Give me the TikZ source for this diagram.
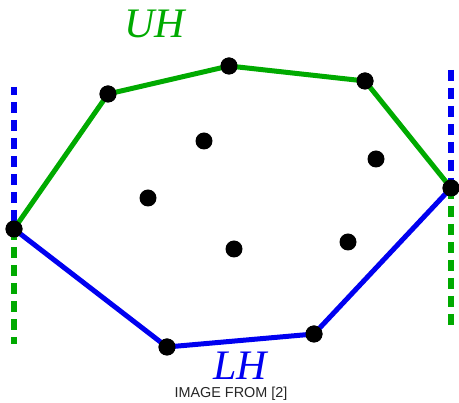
\documentclass[tikz,border=0pt]{standalone}
\usepackage{fontspec}
\setmainfont{Liberation Serif}
\newfontfamily\capfont{Liberation Sans}
\definecolor{hullgreen}{RGB}{0,170,0}
\definecolor{hullblue}{RGB}{0,0,240}
\begin{document}
\begin{tikzpicture}[x=1pt,y=-1pt,
  pt/.style={circle,fill=black,inner sep=0pt,minimum size=17pt},
  hull/.style={line width=5pt,line join=round},
  guide/.style={line width=6pt,dash pattern=on 11pt off 7pt}]
\useasboundingbox (0,0) rectangle (459,403);
% hull points
\node[pt] (a) at (14,229) {};
\node[pt] (b) at (108,94) {};
\node[pt] (c) at (229,66) {};
\node[pt] (d) at (365,81) {};
\node[pt] (e) at (451,188) {};
\node[pt] (f) at (314,334) {};
\node[pt] (g) at (167,347) {};
% interior points
\node[pt] (i1) at (204,141) {};
\node[pt] (i2) at (376,159) {};
\node[pt] (i3) at (148,198) {};
\node[pt] (i4) at (234,249) {};
\node[pt] (i5) at (348,242) {};
% guide lines
\coordinate (lt) at (14,87);
\coordinate (lb) at (14,344);
\coordinate (rt) at (451,70);
\coordinate (rb) at (451,328);
\draw[guide,hullblue,dash phase=3pt] (lt) -- (a.center);
\draw[guide,hullgreen] (a.center) -- (lb);
\draw[guide,hullblue] (rt) -- (e.center);
\draw[guide,hullgreen] (e.center) -- (rb);
\draw[hull,hullgreen] (a.center) -- (b.center) -- (c.center) -- (d.center) -- (e.center);
\draw[hull,hullblue] (a.center) -- (g.center) -- (f.center) -- (e.center);
% redraw points on top
\foreach \p in {a,b,c,d,e,f,g} \fill (\p) circle (8.5pt);
% labels
\node[text=hullgreen,font=\fontsize{42}{42}\selectfont\itshape] (uh) at (155,24) {UH};
\node[text=hullblue,font=\fontsize{42}{42}\selectfont\itshape] (lh) at (240,366) {LH};
\node[font=\capfont\fontsize{14.4}{14.4}\selectfont,text=black!85] (cap) at (231,394) {IMAGE FROM [2]};
\end{tikzpicture}
\end{document}
